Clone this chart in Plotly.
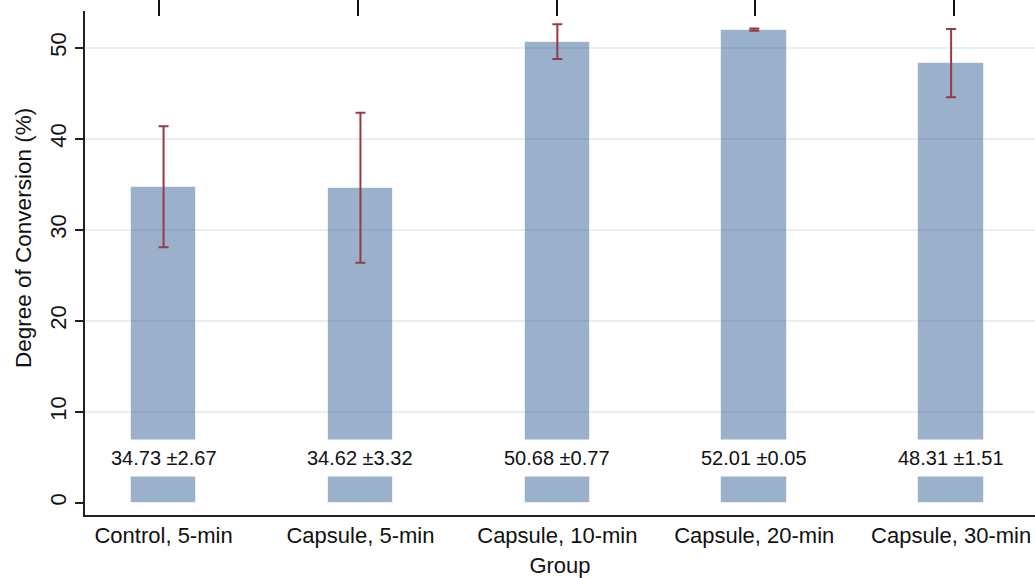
import plotly.graph_objects as go

groups = ["Control, 5-min", "Capsule, 5-min", "Capsule, 10-min", "Capsule, 20-min", "Capsule, 30-min"]
means = [34.73, 34.62, 50.68, 52.01, 48.31]
sds = [2.67, 3.32, 0.77, 0.05, 1.51]
ci_half = [6.64, 8.25, 1.91, 0.12, 3.75]
y_ticks = [0, 10, 20, 30, 40, 50]
grid_ticks = [10, 20, 30, 40, 50]
label_y = 4.95

FONT = "Liberation Sans, Arial, Helvetica, sans-serif"
YR = [-1.35, 54.05]

fig = go.Figure()
fig.add_trace(go.Bar(
    x=groups, y=means, width=0.333,
    marker=dict(color="rgba(53,97,151,0.5)", line=dict(color="rgba(255,255,255,0.6)", width=1)),
    error_y=dict(type="data", array=ci_half, visible=True, color="#963a46", thickness=2, width=5),
    showlegend=False, hoverinfo="skip",
))
# invisible helper trace to anchor the top tick axis and grid axis
fig.add_trace(go.Scatter(
    x=list(range(len(groups))), y=means, xaxis="x2", yaxis="y2",
    mode="markers", marker=dict(opacity=0), showlegend=False, hoverinfo="skip",
))

for g, m, s in zip(groups, means, sds):
    fig.add_annotation(
        x=g, y=label_y, xref="x", yref="y", text=f"{m:.2f} \u00b1{s:.2f}",
        showarrow=False, bgcolor="white", height=36, borderpad=0,
        font=dict(family=FONT, size=20, color="#111"),
    )

fig.add_annotation(
    x=-0.0653, y=0.5496, xref="paper", yref="paper", text="Degree of Conversion (%)",
    textangle=-90, showarrow=False, xanchor="center", yanchor="middle",
    font=dict(family=FONT, size=22.5, color="#111"),
)

fig.update_layout(
    width=1035, height=578,
    margin=dict(l=85, r=0, t=11, b=63),
    paper_bgcolor="white", plot_bgcolor="white",
    font=dict(family=FONT, color="#111"),
    bargap=0,
    xaxis=dict(
        type="category", range=[-0.399, 4.426],
        showline=True, linecolor="#222", linewidth=1.5,
        ticks="", showgrid=False, zeroline=False,
        tickfont=dict(size=22, color="#111"),
        title=dict(text="Group", font=dict(size=22, color="#111"), standoff=13),
    ),
    yaxis=dict(
        range=YR, tickvals=y_ticks, tickangle=-90,
        showline=True, linecolor="#222", linewidth=1.5,
        ticks="outside", ticklen=8, tickwidth=1.5, tickcolor="#222",
        showgrid=False, zeroline=False,
        tickfont=dict(size=22, color="#111"),
    ),
    xaxis2=dict(
        overlaying="x", anchor="free", position=0.99, side="top",
        range=[-0.374, 4.407], tickvals=list(range(len(groups))),
        showticklabels=False, ticks="outside", ticklen=16, tickwidth=2, tickcolor="#111",
        showline=False, showgrid=False, zeroline=False,
    ),
    yaxis2=dict(
        overlaying="y", range=YR, tickvals=grid_ticks, showticklabels=False, ticks="",
        showgrid=True, gridcolor="#e6eff1", gridwidth=1.5, zeroline=False, showline=False,
    ),
)

fig.write_html("out.html")
